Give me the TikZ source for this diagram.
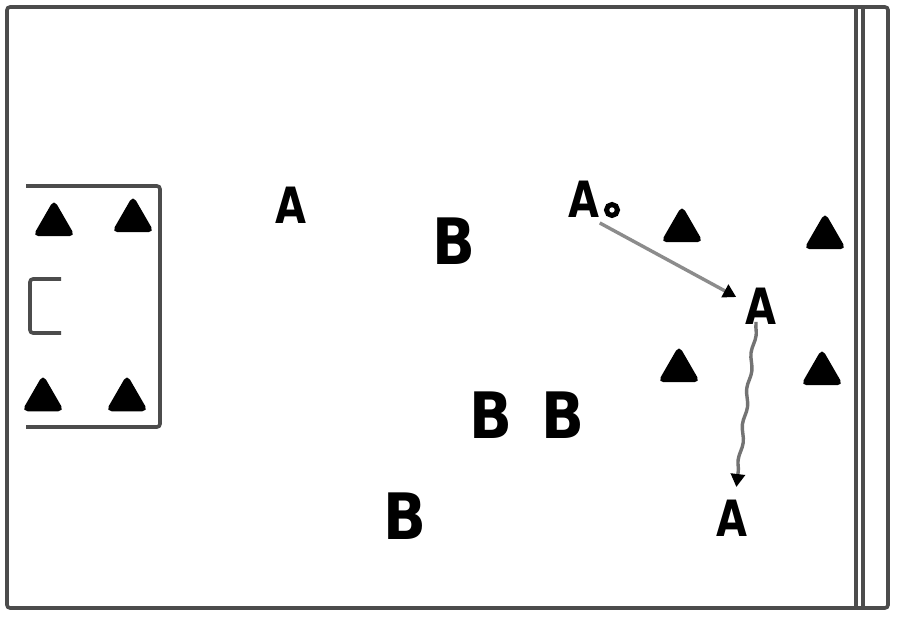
\documentclass[tikz,border=0pt]{standalone}
\usepackage{fontspec}
\setmainfont{DejaVu Sans}
\usetikzlibrary{shapes.geometric,arrows.meta,decorations.pathmorphing}
\tikzset{
  pitch/.style={draw=black!70, line width=3.6pt, rounded corners=3pt},
  cone/.style={regular polygon, regular polygon sides=3, fill=black, draw=black,
    line width=2.5pt, rounded corners=4pt, minimum size=44pt, inner sep=0pt},
  plA/.style={inner sep=0pt, font=\fontsize{50}{50}\selectfont\bfseries},
  plB/.style={inner sep=0pt, font=\fontsize{64}{64}\selectfont\bfseries},
  ball/.style={circle, draw=black, fill=white, line width=5pt, minimum size=11pt, inner sep=0pt},
  pass/.style={draw=black!45, line width=3.4pt, shorten <=2pt, shorten >=2pt,
    -{Triangle[length=13pt,width=14pt,color=black]}},
  dribble/.style={draw=black!55, line width=3.4pt, shorten <=2pt, shorten >=3pt,
    decorate, decoration={snake, amplitude=1.5pt, segment length=36pt, post length=12pt},
    -{Triangle[length=13pt,width=14pt,color=black]}}
}
\newcommand{\lettA}{\scalebox{0.8}[1]{A}}
\newcommand{\lettB}{\scalebox{0.88}[1]{B}}
\begin{document}
\begin{tikzpicture}[x=1pt,y=-1pt]
\useasboundingbox (0,0) rectangle (900,620);
\fill[white] (0,0) rectangle (900,620);
% pitch
\draw[pitch] (7,7) rectangle (888,608);
\draw[draw=black!70, line width=3.6pt] (856,7) -- (856,608);
\draw[draw=black!70, line width=3.6pt] (863,7) -- (863,608);
% goal box (open to the left)
\draw[pitch] (26,186) -- (160,186) -- (160,427) -- (26,427);
% small goal
\draw[pitch] (61,279) -- (30,279) -- (30,333) -- (61,333);
% cones in box
\node[cone] (c1) at (54,224) {};
\node[cone] (c2) at (133,220) {};
\node[cone] (c3) at (43,399) {};
\node[cone] (c4) at (127,399) {};
% cones right
\node[cone] (c5) at (682,230) {};
\node[cone] (c6) at (825,237) {};
\node[cone] (c7) at (679,370) {};
\node[cone] (c8) at (822,373) {};
% players A
\node[plA] (a1) at (291,205) {\lettA};
\node[plA] (a2) at (584,199) {\lettA};
\node[plA] (a3) at (761,306) {\lettA};
\node[plA] (a4) at (732,518) {\lettA};
% players B
\node[plB] (b1) at (454,241) {\lettB};
\node[plB] (b2) at (491,415) {\lettB};
\node[plB] (b3) at (563,415) {\lettB};
\node[plB] (b4) at (405,516) {\lettB};
% ball
\node[ball] (ball) at (612,210) {};
% movements
\coordinate (p1s) at (598,222);
\coordinate (p1e) at (738,298);
\draw[pass] (p1s) -- (p1e);
\coordinate (d1s) at (756,324);
\coordinate (d1e) at (736,490);
\draw[dribble] (d1s) -- (d1e);
\end{tikzpicture}
\end{document}
